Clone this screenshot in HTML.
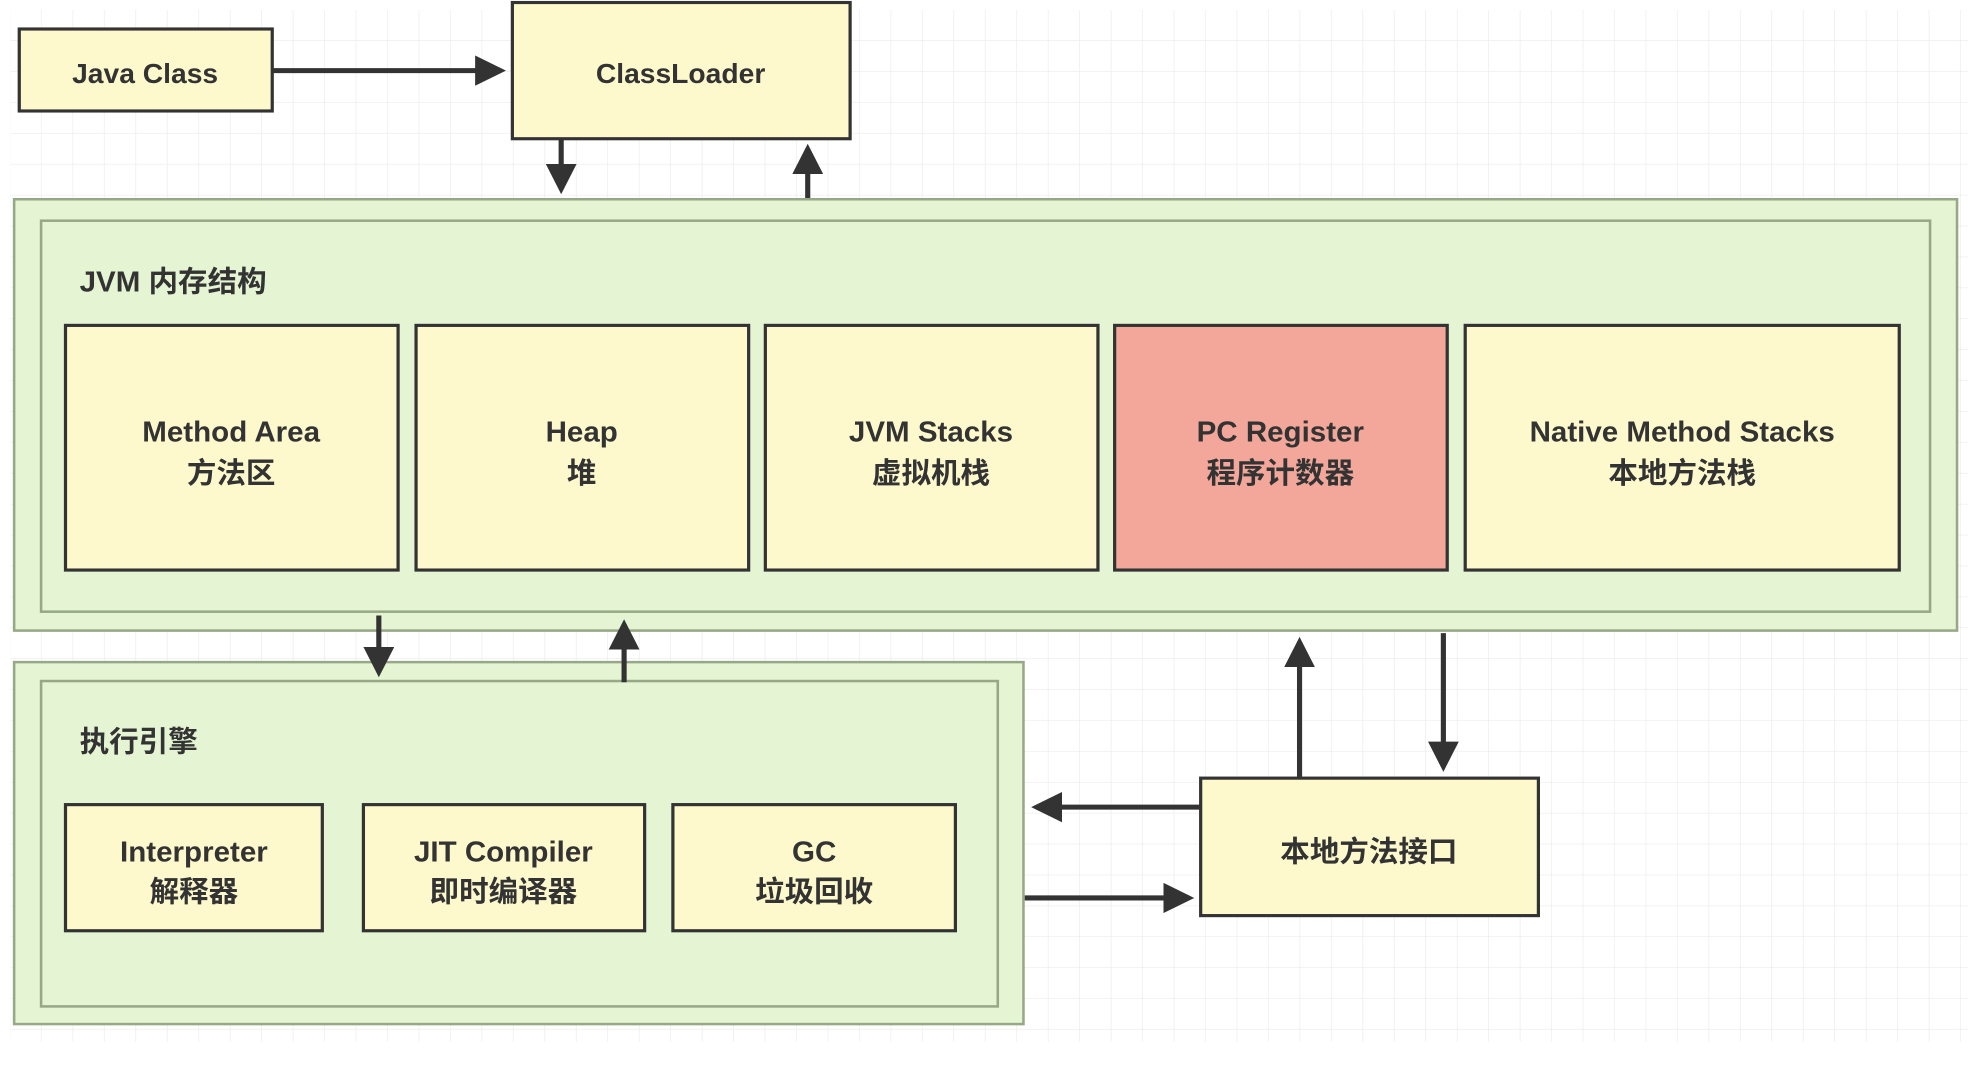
<!DOCTYPE html>
<html><head><meta charset="utf-8"><style>
html,body{margin:0;padding:0;background:#fff;width:1984px;height:1072px;overflow:hidden}
text{font-family:"Liberation Sans","Noto Sans CJK SC",sans-serif;font-weight:bold;fill:#333}
</style></head><body>
<svg width="1984" height="1072" viewBox="0 0 1545 850" preserveAspectRatio="none" xmlns="http://www.w3.org/2000/svg">
<defs>
<pattern id="g" width="24.5" height="24.5" patternUnits="userSpaceOnUse" x="8" y="8">
<path d="M24.5 0V24.5H0" fill="none" stroke="#ebebeb" stroke-width="1"/>
</pattern>
<marker id="a" markerWidth="6" markerHeight="6" refX="5" refY="3" orient="auto" markerUnits="strokeWidth">
<path d="M0,0L6,3L0,6z" fill="#333"/>
</marker>
</defs>
<rect x="8" y="8" width="1525" height="818" fill="url(#g)"/>
<g stroke="#333" stroke-width="2.5">
<rect x="15" y="23" width="197" height="65" fill="#fdf9cc"/>
<rect x="399" y="2" width="263" height="108" fill="#fdf9cc"/>
</g>
<text x="113" y="66" text-anchor="middle" font-size="22">Java Class</text>
<text x="530" y="66" text-anchor="middle" font-size="22">ClassLoader</text>
<rect x="11" y="158" width="1513" height="342" fill="#e5f5d3" stroke="#97a888" stroke-width="2"/>
<rect x="32" y="175" width="1471" height="310" fill="#e5f5d3" stroke="#97a888" stroke-width="2"/>
<text x="62" y="231" font-size="23">JVM 内存结构</text>
<g stroke="#333" stroke-width="2.5">
<rect x="51" y="258" width="259" height="194" fill="#fdf9cc"/>
<rect x="324" y="258" width="259" height="194" fill="#fdf9cc"/>
<rect x="596" y="258" width="259" height="194" fill="#fdf9cc"/>
<rect x="868" y="258" width="259" height="194" fill="#f2a79a"/>
<rect x="1141" y="258" width="338" height="194" fill="#fdf9cc"/>
</g>
<g font-size="23" text-anchor="middle">
<text x="180" y="350">Method Area</text><text x="180" y="383">方法区</text>
<text x="453" y="350">Heap</text><text x="453" y="383">堆</text>
<text x="725" y="350">JVM Stacks</text><text x="725" y="383">虚拟机栈</text>
<text x="997" y="350">PC Register</text><text x="997" y="383">程序计数器</text>
<text x="1310" y="350">Native Method Stacks</text><text x="1310" y="383">本地方法栈</text>
</g>
<rect x="11" y="525" width="786" height="287" fill="#e5f5d3" stroke="#97a888" stroke-width="2"/>
<rect x="32" y="540" width="745" height="258" fill="#e5f5d3" stroke="#97a888" stroke-width="2"/>
<text x="62" y="596" font-size="23">执行引擎</text>
<g stroke="#333" stroke-width="2.5">
<rect x="51" y="638" width="200" height="100" fill="#fdf9cc"/>
<rect x="283" y="638" width="219" height="100" fill="#fdf9cc"/>
<rect x="524" y="638" width="220" height="100" fill="#fdf9cc"/>
<rect x="935" y="617" width="263" height="109" fill="#fdf9cc"/>
</g>
<g font-size="23" text-anchor="middle">
<text x="151" y="683">Interpreter</text><text x="151" y="715">解释器</text>
<text x="392" y="683">JIT Compiler</text><text x="392" y="715">即时编译器</text>
<text x="634" y="683">GC</text><text x="634" y="715">垃圾回收</text>
<text x="1066" y="683">本地方法接口</text>
</g>
<g stroke="#333" stroke-width="4" marker-end="url(#a)">
<line x1="213" y1="56" x2="390" y2="56"/>
<line x1="437" y1="111" x2="437" y2="150"/>
<line x1="629" y1="157" x2="629" y2="118"/>
<line x1="295" y1="488" x2="295" y2="533"/>
<line x1="486" y1="541" x2="486" y2="495"/>
<line x1="1012" y1="616" x2="1012" y2="509"/>
<line x1="1124" y1="502" x2="1124" y2="608"/>
<line x1="934" y1="640" x2="807" y2="640"/>
<line x1="798" y1="712" x2="926" y2="712"/>
</g>
</svg>
</body></html>
